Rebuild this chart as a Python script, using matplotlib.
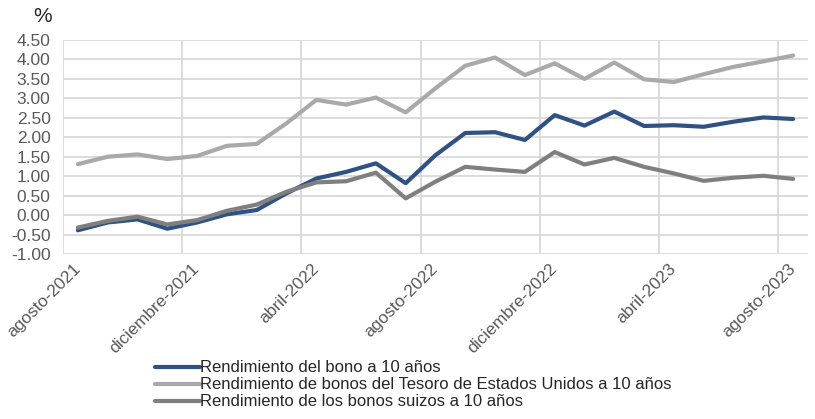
import matplotlib
matplotlib.use('Agg')
import matplotlib.pyplot as plt
import numpy as np

plt.rcParams['font.family'] = ['Liberation Sans', 'DejaVu Sans']

# monthly, agosto-2021 .. agosto-2023
months = ['agosto-2021', 'septiembre-2021', 'octubre-2021', 'noviembre-2021',
          'diciembre-2021', 'enero-2022', 'febrero-2022', 'marzo-2022',
          'abril-2022', 'mayo-2022', 'junio-2022', 'julio-2022',
          'agosto-2022', 'septiembre-2022', 'octubre-2022', 'noviembre-2022',
          'diciembre-2022', 'enero-2023', 'febrero-2023', 'marzo-2023',
          'abril-2023', 'mayo-2023', 'junio-2023', 'julio-2023', 'agosto-2023']

bono_10 = [-0.39, -0.19, -0.11, -0.35, -0.19, 0.02, 0.13, 0.56, 0.94, 1.11,
           1.33, 0.82, 1.54, 2.11, 2.13, 1.93, 2.57, 2.30, 2.66, 2.29,
           2.31, 2.27, 2.40, 2.51, 2.47]
tesoro_us = [1.31, 1.50, 1.56, 1.44, 1.52, 1.78, 1.83, 2.36, 2.96, 2.84,
             3.02, 2.64, 3.26, 3.84, 4.05, 3.60, 3.90, 3.50, 3.92, 3.49,
             3.42, 3.62, 3.81, 3.95, 4.10]
suizos = [-0.32, -0.15, -0.04, -0.24, -0.13, 0.11, 0.27, 0.60, 0.84, 0.87,
          1.09, 0.43, 0.86, 1.24, 1.17, 1.11, 1.62, 1.30, 1.47, 1.24,
          1.07, 0.88, 0.96, 1.01, 0.93]

labels = ['Rendimiento del bono a 10 años',
          'Rendimiento de bonos del Tesoro de Estados Unidos a 10 años',
          'Rendimiento de los bonos suizos a 10 años']
colors = ['#2f5282', '#a9a9a9', '#7f7f7f']

fig = plt.figure(figsize=(8.15, 4.19), dpi=100)
ax = fig.add_axes([63/815, 1 - 254/419, (808 - 63)/815, (254 - 40)/419])

x = np.arange(len(months))
for series, lab, col in zip([bono_10, tesoro_us, suizos], labels, colors):
    ax.plot(x, series, color=col, lw=3, label=lab, solid_capstyle='round')

ax.set_xlim(-0.5, len(months) - 0.5)
ax.set_ylim(-1.0, 4.5)
ax.set_yticks(np.arange(-1.0, 4.51, 0.5))
ax.set_yticklabels([f'{v:.2f}' for v in np.arange(-1.0, 4.51, 0.5)])

ax.set_xticks(x[::4])
ax.set_xticklabels(months[::4], rotation=45, ha='right', va='center',
                   rotation_mode='anchor')
ax.set_xticks(np.arange(-0.5, len(months), 4), minor=True)

ax.grid(True, axis='y', color='#d9d9d9', lw=1.3)
ax.grid(True, axis='x', which='minor', color='#d9d9d9', lw=1.3)
ax.set_axisbelow(True)
for s in ax.spines.values():
    s.set_visible(False)
ax.tick_params(axis='both', which='both', length=0, colors='#595959')
ax.tick_params(axis='y', pad=9, labelsize=12.5)
ax.tick_params(axis='x', pad=9, labelsize=12.5)

fig.text(43/815, 1 - 16/419, '%', ha='center', va='center', fontsize=15,
         color='#262626')

fig.legend(loc='upper left', bbox_to_anchor=(147/815, 1 - 352/419),
           frameon=False, fontsize=12, handlelength=2.65, handletextpad=0.05,
           labelspacing=0.12, borderpad=0, labelcolor='#262626')

fig.savefig('out.png', dpi=100)
